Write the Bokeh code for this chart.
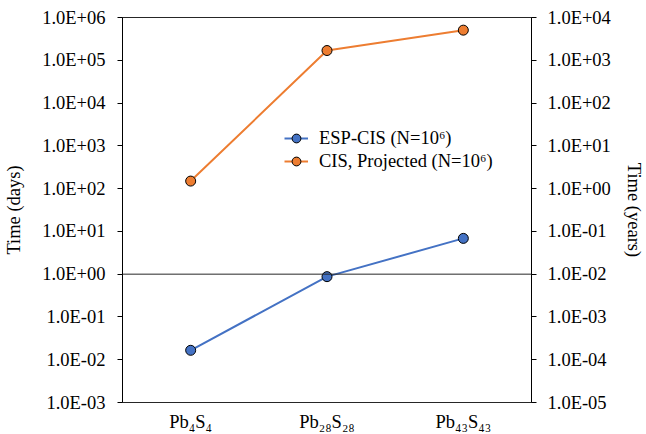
from bokeh.plotting import figure
from bokeh.models import (Range1d, LogAxis, LogScale, FixedTicker, CustomJSTickFormatter,
                          Span, Legend, LegendItem, FactorRange, ColumnDataSource)
from bokeh.embed import file_html
from bokeh.resources import INLINE

categories = ["Pb₄S₄", "Pb₂₈S₂₈", "Pb₄₃S₄₃"]
esp_cis_days = [0.0166, 0.875, 6.86]
cis_projected_days = [150, 1.69e5, 5.06e5]
left_ticks = [1e-3, 1e-2, 1e-1, 1e0, 1e1, 1e2, 1e3, 1e4, 1e5, 1e6]
right_ticks = [1e-5, 1e-4, 1e-3, 1e-2, 1e-1, 1e0, 1e1, 1e2, 1e3, 1e4]
series_labels = ["ESP-CIS (N=10⁶)", "CIS, Projected (N=10⁶)"]
colors = ["#4472C4", "#ED7D31"]

FONT = "Liberation Serif"
FS = "18.5px"

fmt_code = """
const s = tick.toExponential(1).toUpperCase();
const parts = s.split("E");
let e = parts[1];
const sign = e[0];
let d = e.slice(1);
if (d.length < 2) { d = "0" + d; }
return parts[0] + "E" + sign + d;
"""

p = figure(width=646, height=434, x_range=FactorRange(*categories),
           y_axis_type="log", y_range=Range1d(1e-3, 1e6),
           output_backend="svg", toolbar_location=None,
           min_border_left=122, min_border_right=115,
           min_border_top=17, min_border_bottom=32)

p.xgrid.visible = False
p.ygrid.visible = False
p.outline_line_color = "#262626"
p.outline_line_width = 1
p.background_fill_color = "white"
p.border_fill_color = "white"

# left axis
ya = p.yaxis[0]
ya.ticker = FixedTicker(ticks=left_ticks)
ya.formatter = CustomJSTickFormatter(code=fmt_code)
ya.axis_label = "Time (days)"
ya.axis_label_text_font = FONT
ya.axis_label_text_font_size = FS
ya.axis_label_text_font_style = "normal"
ya.axis_label_text_color = "black"
ya.axis_label_standoff = 15
ya.major_label_text_font = FONT
ya.major_label_text_font_size = FS
ya.major_label_text_color = "black"
ya.major_label_standoff = 12
ya.major_tick_out = 5
ya.major_tick_in = 0
ya.minor_tick_line_color = None
ya.axis_line_color = "black"
ya.major_tick_line_color = "black"

# right axis
p.extra_y_ranges = {"years": Range1d(1e-5, 1e4)}
p.extra_y_scales = {"years": LogScale()}
ra = LogAxis(y_range_name="years", ticker=FixedTicker(ticks=right_ticks),
             formatter=CustomJSTickFormatter(code=fmt_code), axis_label="Time (years)")
ra.axis_label_text_font = FONT
ra.axis_label_text_font_size = FS
ra.axis_label_text_font_style = "normal"
ra.axis_label_text_color = "black"
ra.axis_label_standoff = 10
ra.major_label_text_font = FONT
ra.major_label_text_font_size = FS
ra.major_label_text_color = "black"
ra.major_label_standoff = 11
ra.major_tick_out = 5
ra.major_tick_in = 0
ra.minor_tick_line_color = None
ra.axis_line_color = "black"
ra.major_tick_line_color = "black"
p.add_layout(ra, "right")

# bottom axis
xa = p.xaxis[0]
xa.axis_line_color = None
xa.major_tick_line_color = None
xa.minor_tick_line_color = None
xa.major_label_text_font = FONT
xa.major_label_text_font_size = FS
xa.major_label_text_color = "black"
xa.major_label_standoff = 3

# horizontal line at y = 1 (axis crossing)
p.add_layout(Span(location=1, dimension="width", line_color="#262626", line_width=1))

items = []
for vals, col, lab in zip([esp_cis_days, cis_projected_days], colors, series_labels):
    src = ColumnDataSource(dict(x=categories, y=vals))
    l = p.line("x", "y", source=src, line_color=col, line_width=2)
    s = p.scatter("x", "y", source=src, size=10, fill_color=col, line_color="black", line_width=1)
    items.append(LegendItem(label=lab, renderers=[l, s]))

legend = Legend(items=items, location=(162, 230))
legend.border_line_color = None
legend.background_fill_alpha = 0
legend.label_text_font = FONT
legend.label_text_font_size = FS
legend.label_text_color = "black"
legend.glyph_width = 24
legend.glyph_height = 22
legend.label_standoff = 11
legend.spacing = 1
legend.padding = 10
p.add_layout(legend)

open("out.html", "w").write(file_html(p, INLINE))
